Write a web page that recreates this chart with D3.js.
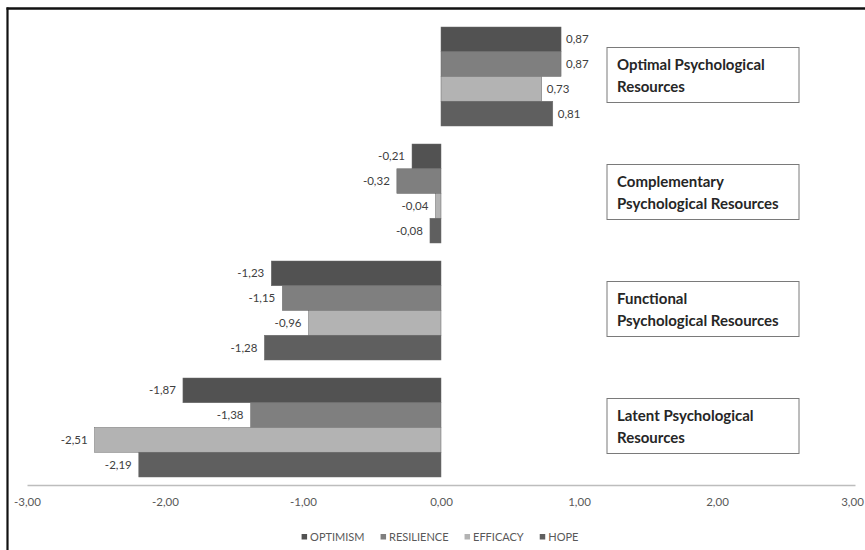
<!DOCTYPE html>
<html>
<head>
<meta charset="utf-8">
<script src="https://cdn.jsdelivr.net/npm/d3@7"></script>
<style>
  body { margin: 0; background: #fff; }
  svg { display: block; font-family: Lato, "Open Sans", sans-serif; }
</style>
</head>
<body>
<div id="container"></div>
<script>
const width = 865;
const height = 550;

const groups = ["Optimal Psychological Resources", "Complementary Psychological Resources",
                "Functional Psychological Resources", "Latent Psychological Resources"];
const groupLines = [["Optimal Psychological", "Resources"],
                    ["Complementary", "Psychological Resources"],
                    ["Functional", "Psychological Resources"],
                    ["Latent Psychological", "Resources"]];
const series = ["OPTIMISM", "RESILIENCE", "EFFICACY", "HOPE"];
const optimism   = [0.87, -0.21, -1.23, -1.87];
const resilience = [0.87, -0.32, -1.15, -1.38];
const efficacy   = [0.73, -0.04, -0.96, -2.51];
const hope       = [0.81, -0.08, -1.28, -2.19];
const tickValues = [-3, -2, -1, 0, 1, 2, 3];

const values = [optimism, resilience, efficacy, hope];
const color = d3.scaleOrdinal()
                .domain(series)
                .range(["#525252", "#7f7f7f", "#b3b3b3", "#5f5f5f"]);
const fmt = d => d3.format(".2f")(d).replace(".", ",").replace("−", "-");

const svg = d3.select("#container")
              .append("svg")
              .attr("width", width)
              .attr("height", height);

// frame (top and left edges of the pasted chart)
svg.append("line")
   .attr("x1", 6.5).attr("x2", width).attr("y1", 8.5).attr("y2", 8.5)
   .attr("stroke", "#111").attr("stroke-width", 2.5);
svg.append("line")
   .attr("x1", 7.5).attr("x2", 7.5).attr("y1", 7.5).attr("y2", height)
   .attr("stroke", "#111").attr("stroke-width", 2.2);

const x = d3.scaleLinear().domain([-3, 3]).range([27, 855]);
const y = d3.scaleBand().domain(groups).range([18, 486]).paddingInner(0.154).paddingOuter(0.077);
const ySub = d3.scaleBand().domain(series).range([0, y.bandwidth()]);

const rows = [];
groups.forEach((g, gi) => {
  series.forEach((s, si) => rows.push({ group: g, series: s, value: values[si][gi] }));
});

const bars = svg.append("g");
bars.selectAll("rect")
    .data(rows)
    .enter()
    .append("rect")
    .attr("x", d => x(Math.min(0, d.value)))
    .attr("y", d => y(d.group) + ySub(d.series))
    .attr("width", d => Math.abs(x(d.value) - x(0)))
    .attr("height", ySub.bandwidth())
    .attr("fill", d => color(d.series))
    .attr("stroke", "#6a6a6a")
    .attr("stroke-width", 0.5);

bars.selectAll("text")
    .data(rows)
    .enter()
    .append("text")
    .attr("x", d => d.value >= 0 ? x(d.value) + 5 : x(d.value) - 7)
    .attr("y", d => y(d.group) + ySub(d.series) + ySub.bandwidth() / 2)
    .attr("dy", "0.35em")
    .attr("text-anchor", d => d.value >= 0 ? "start" : "end")
    .attr("font-size", "11.5px")
    .attr("fill", "#404040")
    .text(d => fmt(d.value));

// axis
const axis = svg.append("g")
                .attr("transform", "translate(0," + 485 + ")")
                .call(d3.axisBottom(x).tickValues(tickValues).tickSize(0).tickPadding(13).tickFormat(fmt));
axis.select(".domain").attr("stroke", "#bdbdbd").attr("stroke-width", 1.5);
axis.selectAll("text")
    .attr("font-family", "Lato, sans-serif")
    .attr("font-size", "11.5px")
    .attr("fill", "#595959")
    .attr("dx", d => d === 3 ? "-3px" : 0);

// category boxes
const boxes = svg.append("g")
                 .selectAll("g")
                 .data(groups)
                 .enter()
                 .append("g")
                 .attr("transform", d => "translate(607," + (y(d) + y.bandwidth() / 2 - 29) + ")");
boxes.append("rect")
     .attr("width", 192)
     .attr("height", 55)
     .attr("fill", "#fff")
     .attr("stroke", "#7a7a7a")
     .attr("stroke-width", 1);
boxes.append("text")
     .attr("font-size", "15px")
     .attr("font-weight", "bold")
     .attr("fill", "#262626")
     .selectAll("tspan")
     .data((d, i) => groupLines[i])
     .enter()
     .append("tspan")
     .attr("x", 10)
     .attr("y", (d, i) => 22 + i * 22)
     .text(d => d);

// legend
const legend = svg.append("g").attr("transform", "translate(0,537)");
const items = legend.selectAll("g")
                    .data(series)
                    .enter()
                    .append("g");
items.append("rect")
     .attr("width", 5.5)
     .attr("height", 5.5)
     .attr("y", -3)
     .attr("fill", d => color(d));
items.append("text")
     .attr("x", 8.5)
     .attr("dy", "0.35em")
     .attr("font-size", "11px")
     .attr("fill", "#595959")
     .text(d => d);
let offset = 0;
const widths = [];
items.each(function() {
  widths.push(8.5 + this.querySelector("text").getComputedTextLength());
});
const total = d3.sum(widths) + 16 * (series.length - 1);
offset = 440 - total / 2;
items.attr("transform", (d, i) => {
  const t = "translate(" + offset + ",0)";
  offset += widths[i] + 16;
  return t;
});
</script>
</body>
</html>
